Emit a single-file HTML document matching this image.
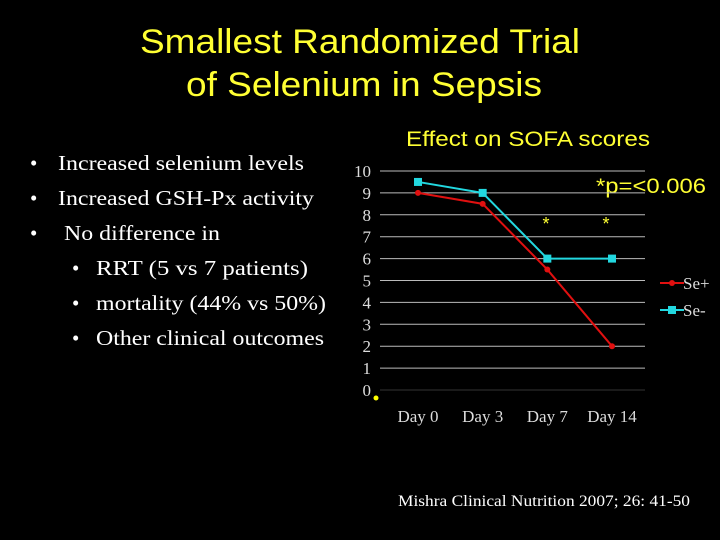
<!DOCTYPE html>
<html><head><meta charset="utf-8"><style>
html,body{margin:0;padding:0;background:#000;}
svg{display:block;}
.t{font-family:"Liberation Sans",sans-serif;fill:#ffff33;}
.b{font-family:"Liberation Serif",serif;fill:#fff;font-size:21px;}
.ax{font-family:"Liberation Serif",serif;fill:#ddd;font-size:17px;}
</style></head><body>
<svg id="c" width="720" height="540" viewBox="0 0 720 540">
<text class="t" x="360" y="53" font-size="34" text-anchor="middle" textLength="440" lengthAdjust="spacingAndGlyphs">Smallest Randomized Trial</text>
<text class="t" x="364" y="96" font-size="34" text-anchor="middle" textLength="356" lengthAdjust="spacingAndGlyphs">of Selenium in Sepsis</text>
<g>
<text class="b" x="30" y="170">•</text><text class="b" x="58" y="170" textLength="246" lengthAdjust="spacingAndGlyphs">Increased selenium levels</text>
<text class="b" x="30" y="205">•</text><text class="b" x="58" y="205" textLength="256" lengthAdjust="spacingAndGlyphs">Increased GSH-Px activity</text>
<text class="b" x="30" y="240">•</text><text class="b" x="64" y="240" textLength="156" lengthAdjust="spacingAndGlyphs">No difference in</text>
<text class="b" x="72" y="275">•</text><text class="b" x="96" y="275" textLength="212" lengthAdjust="spacingAndGlyphs">RRT  (5 vs 7 patients)</text>
<text class="b" x="72" y="310">•</text><text class="b" x="96" y="310" textLength="230" lengthAdjust="spacingAndGlyphs">mortality (44% vs 50%)</text>
<text class="b" x="72" y="345">•</text><text class="b" x="96" y="345" textLength="228" lengthAdjust="spacingAndGlyphs">Other clinical outcomes</text>
</g>
<text class="t" x="406" y="146" font-size="21" textLength="244" lengthAdjust="spacingAndGlyphs">Effect on SOFA scores</text>
<text class="t" x="596" y="193" font-size="21" textLength="110" lengthAdjust="spacingAndGlyphs">*p=&lt;0.006</text>
<text class="t" x="546" y="230" font-size="18" text-anchor="middle">*</text>
<text class="t" x="606" y="230" font-size="18" text-anchor="middle">*</text>
<g id="plot"></g>
<text x="398" y="506" font-family="Liberation Serif,serif" font-size="16" fill="#fff" textLength="292" lengthAdjust="spacingAndGlyphs">Mishra Clinical Nutrition 2007; 26: 41-50</text>
</svg>
<script>
const categories=["Day 0","Day 3","Day 7","Day 14"];
const sePlus=[9,8.5,5.5,2];
const seMinus=[9.5,9,6,6];
const yTicks=[0,1,2,3,4,5,6,7,8,9,10];
const NS="http://www.w3.org/2000/svg";
const g=document.getElementById('plot');
const x0=380,x1=645,yTop=171,yBot=390;
const xs=i=>418+i*(612-418)/(categories.length-1);
const ys=v=>yBot-(v/10)*(yBot-yTop);
function mk(t,a){const e=document.createElementNS(NS,t);for(const k in a)e.setAttribute(k,a[k]);g.appendChild(e);return e;}
yTicks.forEach(v=>{
 if(v>0){const l=mk('line',{x1:x0,x2:x1,y1:ys(v),y2:ys(v),stroke:'#bbb','stroke-width':1});
 
 }
 const t=mk('text',{x:371,y:ys(v)+6,'text-anchor':'end',class:'ax'});t.textContent=v;
 
 
});
const xl=mk('line',{x1:x0,x2:x1,y1:yBot,y2:yBot,stroke:'#333'});


const dot=mk('circle',{cx:376,cy:398,r:2.5,fill:'#ff0'});


categories.forEach((c,i)=>{const t=mk('text',{x:xs(i),y:422,'text-anchor':'middle',class:'ax'});t.textContent=c;
 
 });
function series(vals,color,sq,name){
 const p=mk('polyline',{points:vals.map((v,i)=>xs(i)+','+ys(v)).join(' '),fill:'none',stroke:color,'stroke-width':2});
 
 
 vals.forEach((v,i)=>{let m;
  if(sq)m=mk('rect',{x:xs(i)-4,y:ys(v)-4,width:8,height:8,fill:color});
  else m=mk('circle',{cx:xs(i),cy:ys(v),r:3,fill:color});
  
  });
}
series(seMinus,'#22d8e0',true,'se-minus');
series(sePlus,'#e01010',false,'se-plus');
[['Se+','#e01010',false,283],['Se-','#22d8e0',true,310]].forEach(([n,c,sq,y])=>{
 const l=mk('line',{x1:660,x2:684,y1:y,y2:y,stroke:c,'stroke-width':2});
 
 
 const m=sq?mk('rect',{x:668,y:y-4,width:8,height:8,fill:c}):mk('circle',{cx:672,cy:y,r:3,fill:c});
 
 
 const t=mk('text',{x:683,y:y+6,class:'ax'});t.textContent=n;
 
 
});
</script>
</body></html>
